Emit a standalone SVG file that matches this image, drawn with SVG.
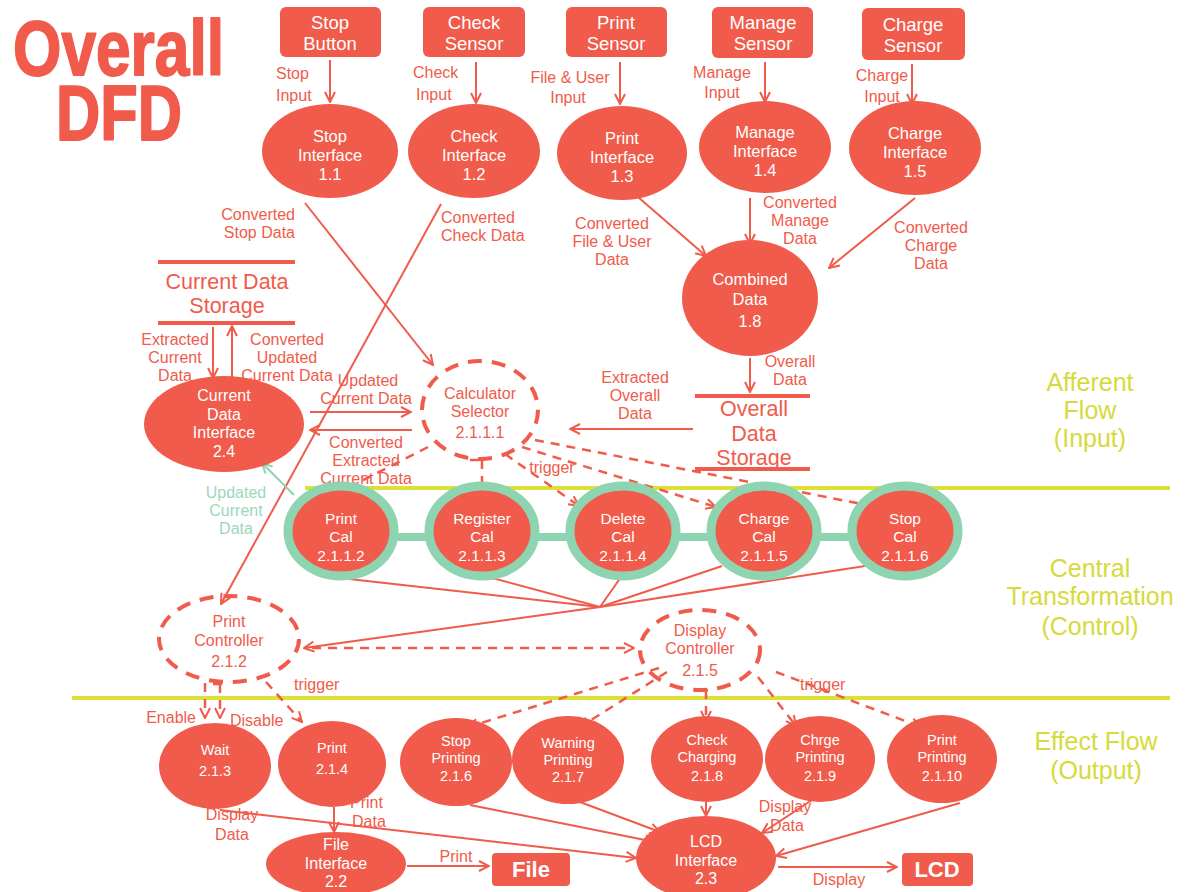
<svg xmlns="http://www.w3.org/2000/svg" width="1190" height="892" viewBox="0 0 1190 892">
<defs>
<style>
.bg{fill:#ffffff}
.nf{fill:#F05B4B}
text{font-family:"Liberation Sans",Arial,sans-serif}
.wt{fill:#ffffff;font-size:16.5px;text-anchor:middle}
.wt4{fill:#ffffff;font-size:16px;text-anchor:middle}
.wt2{fill:#ffffff;font-size:14.5px;text-anchor:middle}
.wt3{fill:#ffffff;font-size:18.5px;text-anchor:middle}
.wtc{fill:#ffffff;font-size:15.5px;text-anchor:middle}
.big{fill:#ffffff;font-size:22px;font-weight:bold;text-anchor:middle}
.lb{fill:#F05B4B;font-size:16px}
.lbm{fill:#F05B4B;font-size:16px;text-anchor:middle}
.ctl{fill:#F05B4B;font-size:16px;text-anchor:middle}
.st{fill:#F05B4B;font-size:21.5px;text-anchor:middle}
.gl{fill:#9BD8BA;font-size:16px;text-anchor:middle}
.yl{fill:#D6DA3A;font-size:25px;text-anchor:middle}
.title{fill:#F05B4B;stroke:#F05B4B;stroke-width:1.5;stroke-linejoin:round;font-family:"Liberation Sans",Arial,sans-serif;font-weight:bold;font-size:62px}
.ln{stroke:#F05B4B;stroke-width:2;fill:none}
.dl{stroke:#F05B4B;stroke-width:2.5;fill:none;stroke-dasharray:9 7}
.de{stroke:#F05B4B;stroke-width:4;fill:none;stroke-dasharray:14 10}
.bar{stroke:#F05B4B;stroke-width:4}
.yline{stroke:#DDE035;stroke-width:4}
.ring{fill:#F05B4B;stroke:#8FD4B0;stroke-width:9}
.gline{stroke:#8FD4B0;stroke-width:2;fill:none}
</style>
<marker id="ah" viewBox="0 0 12 12" refX="11" refY="6" markerWidth="12" markerHeight="12" markerUnits="userSpaceOnUse" orient="auto">
<path d="M1,1 L11,6 L1,11" fill="none" stroke="#F05B4B" stroke-width="2"/>
</marker>
<marker id="ahg" viewBox="0 0 12 12" refX="11" refY="6" markerWidth="12" markerHeight="12" markerUnits="userSpaceOnUse" orient="auto">
<path d="M1,1 L11,6 L1,11" fill="none" stroke="#8FD4B0" stroke-width="2"/>
</marker>
</defs>
<rect class="bg" x="0" y="0" width="1190" height="892"/>

<g id="title" transform="scale(1,1.27)">
<text class="title" x="13" y="59" textLength="211" lengthAdjust="spacingAndGlyphs">Overall</text>
<text class="title" x="56" y="110" textLength="126" lengthAdjust="spacingAndGlyphs">DFD</text>
</g>

<g id="swimlanes">
<line class="yline" x1="305" y1="488" x2="1170" y2="488"/>
<line class="yline" x1="72" y1="698" x2="1170" y2="698"/>
<text class="yl"><tspan x="1090" y="391">Afferent</tspan><tspan x="1090" y="419">Flow</tspan><tspan x="1090" y="447">(Input)</tspan></text>
<text class="yl"><tspan x="1090" y="577">Central</tspan><tspan x="1090" y="605">Transformation</tspan><tspan x="1090" y="635">(Control)</tspan></text>
<text class="yl"><tspan x="1096" y="750">Effect Flow</tspan><tspan x="1096" y="779">(Output)</tspan></text>
</g>

<g id="connectors">
<line class="ln" x1="330" y1="60" x2="330" y2="102" marker-end="url(#ah)"/>
<line class="ln" x1="476" y1="62" x2="476" y2="103" marker-end="url(#ah)"/>
<line class="ln" x1="620" y1="62" x2="620" y2="104" marker-end="url(#ah)"/>
<line class="ln" x1="765" y1="62" x2="765" y2="102" marker-end="url(#ah)"/>
<line class="ln" x1="912" y1="64" x2="912" y2="104" marker-end="url(#ah)"/>
<line class="ln" x1="638" y1="197" x2="706" y2="256" marker-end="url(#ah)"/>
<line class="ln" x1="750" y1="198" x2="750" y2="244" marker-end="url(#ah)"/>
<line class="ln" x1="915" y1="198" x2="829" y2="268" marker-end="url(#ah)"/>
<line class="ln" x1="750" y1="358" x2="750" y2="392" marker-end="url(#ah)"/>
<line class="ln" x1="693" y1="429" x2="570" y2="429" marker-end="url(#ah)"/>
<line class="ln" x1="305" y1="203" x2="433" y2="365" marker-end="url(#ah)"/>
<line class="ln" x1="441" y1="204" x2="221" y2="604" marker-end="url(#ah)"/>
<line class="ln" x1="213" y1="327" x2="213" y2="378" marker-end="url(#ah)"/>
<line class="ln" x1="232" y1="378" x2="232" y2="326" marker-end="url(#ah)"/>
<line class="ln" x1="310" y1="412" x2="411" y2="412" marker-end="url(#ah)"/>
<line class="ln" x1="412" y1="430" x2="310" y2="430" marker-end="url(#ah)"/>
<line class="gline" x1="294" y1="495" x2="262" y2="463" marker-end="url(#ahg)"/>
<path class="dl" d="M428,447 L336,494" marker-end="url(#ah)"/>
<path class="dl" d="M470,460 L484,460 M482,460 L482,492" marker-end="url(#ah)"/>
<path class="dl" d="M505,454 L579,506" marker-end="url(#ah)"/>
<path class="dl" d="M522,447 L716,507" marker-end="url(#ah)"/>
<path class="dl" d="M535,440 L872,506" marker-end="url(#ah)"/>
<line class="ln" x1="340" y1="578" x2="600" y2="607"/>
<line class="ln" x1="440" y1="564" x2="600" y2="607"/>
<line class="ln" x1="621" y1="577" x2="600" y2="607"/>
<line class="ln" x1="722" y1="566" x2="600" y2="607"/>
<line class="ln" x1="865" y1="566" x2="600" y2="607"/>
<line class="ln" x1="600" y1="607" x2="304" y2="648" marker-end="url(#ah)"/>
<line class="dl" x1="312" y1="648" x2="634" y2="648" marker-end="url(#ah)"/>
<path class="dl" d="M205,683 L205,718" marker-end="url(#ah)"/>
<path class="dl" d="M213,684 L227,684 M220,684 L220,718" marker-end="url(#ah)"/>
<path class="dl" d="M266,682 L302,722" marker-end="url(#ah)"/>
<path class="dl" d="M659,668 L468,727" marker-end="url(#ah)"/>
<path class="dl" d="M667,672 L580,727" marker-end="url(#ah)"/>
<path class="dl" d="M699,690 L713,690 M706,690 L706,721" marker-end="url(#ah)"/>
<path class="dl" d="M758,677 L796,726" marker-end="url(#ah)"/>
<path class="dl" d="M776,672 L921,727" marker-end="url(#ah)"/>
<line class="ln" x1="334" y1="807" x2="334" y2="832" marker-end="url(#ah)"/>
<line class="ln" x1="220" y1="810" x2="636" y2="858" marker-end="url(#ah)"/>
<line class="ln" x1="470" y1="805" x2="655" y2="842" marker-end="url(#ah)"/>
<line class="ln" x1="580" y1="802" x2="660" y2="832" marker-end="url(#ah)"/>
<line class="ln" x1="706" y1="802" x2="706" y2="816" marker-end="url(#ah)"/>
<line class="ln" x1="812" y1="800" x2="762" y2="833" marker-end="url(#ah)"/>
<line class="ln" x1="960" y1="803" x2="776" y2="856" marker-end="url(#ah)"/>
<line class="ln" x1="407" y1="866" x2="489" y2="866" marker-end="url(#ah)"/>
<line class="ln" x1="778" y1="867" x2="897" y2="867" marker-end="url(#ah)"/>
</g>

<g id="connector-labels">
<text class="lb"><tspan x="276" y="79">Stop</tspan><tspan x="276" y="101">Input</tspan></text>
<text class="lb"><tspan x="413" y="78">Check</tspan><tspan x="416" y="100">Input</tspan></text>
<text class="lbm"><tspan x="570" y="83">File &amp; User</tspan><tspan x="568" y="103">Input</tspan></text>
<text class="lbm"><tspan x="722" y="78">Manage</tspan><tspan x="722" y="98">Input</tspan></text>
<text class="lbm"><tspan x="882" y="81">Charge</tspan><tspan x="882" y="102">Input</tspan></text>
<text class="lb" text-anchor="end"><tspan x="295" y="220">Converted</tspan><tspan x="295" y="238">Stop Data</tspan></text>
<text class="lb"><tspan x="441" y="223">Converted</tspan><tspan x="441" y="241">Check Data</tspan></text>
<text class="lbm"><tspan x="612" y="229">Converted</tspan><tspan x="612" y="247">File &amp; User</tspan><tspan x="612" y="265">Data</tspan></text>
<text class="lbm"><tspan x="800" y="208">Converted</tspan><tspan x="800" y="226">Manage</tspan><tspan x="800" y="244">Data</tspan></text>
<text class="lbm"><tspan x="931" y="233">Converted</tspan><tspan x="931" y="251">Charge</tspan><tspan x="931" y="269">Data</tspan></text>
<text class="lbm"><tspan x="790" y="367">Overall</tspan><tspan x="790" y="385">Data</tspan></text>
<text class="lbm"><tspan x="635" y="383">Extracted</tspan><tspan x="635" y="401">Overall</tspan><tspan x="635" y="419">Data</tspan></text>
<text class="lbm"><tspan x="175" y="345">Extracted</tspan><tspan x="175" y="363">Current</tspan><tspan x="175" y="381">Data</tspan></text>
<text class="lbm"><tspan x="287" y="345">Converted</tspan><tspan x="287" y="363">Updated</tspan><tspan x="287" y="381">Current Data</tspan></text>
<text class="lbm"><tspan x="368" y="386">Updated</tspan><tspan x="366" y="404">Current Data</tspan></text>
<text class="lbm"><tspan x="366" y="448">Converted</tspan><tspan x="366" y="466">Extracted</tspan><tspan x="366" y="484">Current Data</tspan></text>
<text class="gl"><tspan x="236" y="498">Updated</tspan><tspan x="236" y="516">Current</tspan><tspan x="236" y="534">Data</tspan></text>
<text class="lbm" x="552" y="473">trigger</text>
<text class="lb" x="294" y="690">trigger</text>
<text class="lb" x="800" y="690">trigger</text>
<text class="lb" x="196" y="723" text-anchor="end">Enable</text>
<text class="lb" x="230" y="726">Disable</text>
<text class="lbm"><tspan x="232" y="820">Display</tspan><tspan x="232" y="840">Data</tspan></text>
<text class="lb"><tspan x="350" y="808">Print</tspan><tspan x="352" y="827">Data</tspan></text>
<text class="lbm"><tspan x="785" y="812">Display</tspan><tspan x="787" y="831">Data</tspan></text>
<text class="lbm" x="456" y="862">Print</text>
<text class="lbm" x="839" y="885">Display</text>
</g>

<g id="stop-button"><rect class="nf" x="280" y="7" width="101" height="50" rx="6"/><text class="wt3"><tspan x="330" y="29">Stop</tspan><tspan x="330" y="50">Button</tspan></text></g>
<g id="check-sensor"><rect class="nf" x="423" y="7" width="102" height="50" rx="6"/><text class="wt3"><tspan x="474" y="29">Check</tspan><tspan x="474" y="50">Sensor</tspan></text></g>
<g id="print-sensor"><rect class="nf" x="566" y="7" width="101" height="50" rx="6"/><text class="wt3"><tspan x="616" y="29">Print</tspan><tspan x="616" y="50">Sensor</tspan></text></g>
<g id="manage-sensor"><rect class="nf" x="712" y="7" width="101" height="51" rx="6"/><text class="wt3"><tspan x="763" y="29">Manage</tspan><tspan x="763" y="50">Sensor</tspan></text></g>
<g id="charge-sensor"><rect class="nf" x="862" y="8" width="103" height="52" rx="6"/><text class="wt3"><tspan x="913" y="31">Charge</tspan><tspan x="913" y="52">Sensor</tspan></text></g>

<g id="stop-interface"><ellipse class="nf" cx="330" cy="151" rx="68" ry="47"/><text class="wt"><tspan x="330" y="142">Stop</tspan><tspan x="330" y="161">Interface</tspan><tspan x="330" y="180">1.1</tspan></text></g>
<g id="check-interface"><ellipse class="nf" cx="474" cy="151" rx="66" ry="47"/><text class="wt"><tspan x="474" y="142">Check</tspan><tspan x="474" y="161">Interface</tspan><tspan x="474" y="180">1.2</tspan></text></g>
<g id="print-interface"><ellipse class="nf" cx="622" cy="153" rx="65" ry="47"/><text class="wt"><tspan x="622" y="144">Print</tspan><tspan x="622" y="163">Interface</tspan><tspan x="622" y="182">1.3</tspan></text></g>
<g id="manage-interface"><ellipse class="nf" cx="765" cy="147" rx="66" ry="46"/><text class="wt"><tspan x="765" y="138">Manage</tspan><tspan x="765" y="157">Interface</tspan><tspan x="765" y="176">1.4</tspan></text></g>
<g id="charge-interface"><ellipse class="nf" cx="915" cy="148" rx="66" ry="47"/><text class="wt"><tspan x="915" y="139">Charge</tspan><tspan x="915" y="158">Interface</tspan><tspan x="915" y="177">1.5</tspan></text></g>

<g id="combined-data"><ellipse class="nf" cx="750" cy="298" rx="68" ry="58"/><text class="wt"><tspan x="750" y="285">Combined</tspan><tspan x="750" y="305">Data</tspan><tspan x="750" y="327">1.8</tspan></text></g>

<g id="overall-data-storage"><line class="bar" x1="695" y1="396" x2="810" y2="396"/><line class="bar" x1="695" y1="469" x2="810" y2="469"/><text class="st"><tspan x="754" y="416">Overall</tspan><tspan x="754" y="441">Data</tspan><tspan x="754" y="465">Storage</tspan></text></g>

<g id="current-data-storage"><line class="bar" x1="158" y1="262" x2="295" y2="262"/><line class="bar" x1="158" y1="323" x2="295" y2="323"/><text class="st"><tspan x="227" y="289">Current Data</tspan><tspan x="227" y="313">Storage</tspan></text></g>

<g id="current-data-interface"><ellipse class="nf" cx="224" cy="424" rx="80" ry="48"/><text class="wt4"><tspan x="224" y="401">Current</tspan><tspan x="224" y="419.5">Data</tspan><tspan x="224" y="438">Interface</tspan><tspan x="224" y="456.5">2.4</tspan></text></g>

<g id="calculator-selector"><ellipse class="de" cx="480" cy="410" rx="58" ry="49"/><text class="ctl"><tspan x="480" y="399">Calculator</tspan><tspan x="480" y="417">Selector</tspan><tspan x="480" y="438">2.1.1.1</tspan></text></g>

<g id="cal-chain"><line x1="341" y1="537" x2="905" y2="537" stroke="#8FD4B0" stroke-width="8"/></g>
<g id="print-cal"><ellipse class="ring" cx="341" cy="531" rx="53" ry="45"/><text class="wtc"><tspan x="341" y="524">Print</tspan><tspan x="341" y="542">Cal</tspan><tspan x="341" y="561">2.1.1.2</tspan></text></g>
<g id="register-cal"><ellipse class="ring" cx="482" cy="531" rx="53" ry="45"/><text class="wtc"><tspan x="482" y="524">Register</tspan><tspan x="482" y="542">Cal</tspan><tspan x="482" y="561">2.1.1.3</tspan></text></g>
<g id="delete-cal"><ellipse class="ring" cx="623" cy="531" rx="53" ry="45"/><text class="wtc"><tspan x="623" y="524">Delete</tspan><tspan x="623" y="542">Cal</tspan><tspan x="623" y="561">2.1.1.4</tspan></text></g>
<g id="charge-cal"><ellipse class="ring" cx="764" cy="531" rx="53" ry="45"/><text class="wtc"><tspan x="764" y="524">Charge</tspan><tspan x="764" y="542">Cal</tspan><tspan x="764" y="561">2.1.1.5</tspan></text></g>
<g id="stop-cal"><ellipse class="ring" cx="905" cy="531" rx="53" ry="45"/><text class="wtc"><tspan x="905" y="524">Stop</tspan><tspan x="905" y="542">Cal</tspan><tspan x="905" y="561">2.1.1.6</tspan></text></g>

<g id="print-controller"><ellipse class="de" cx="229" cy="639" rx="70" ry="43"/><text class="ctl"><tspan x="229" y="627">Print</tspan><tspan x="229" y="646">Controller</tspan><tspan x="229" y="667">2.1.2</tspan></text></g>
<g id="display-controller"><ellipse class="de" cx="700" cy="650" rx="60" ry="40"/><text class="ctl"><tspan x="700" y="636">Display</tspan><tspan x="700" y="654">Controller</tspan><tspan x="700" y="676">2.1.5</tspan></text></g>

<g id="wait"><ellipse class="nf" cx="215" cy="766" rx="56" ry="43"/><text class="wt2"><tspan x="215" y="755">Wait</tspan><tspan x="215" y="776">2.1.3</tspan></text></g>
<g id="print"><ellipse class="nf" cx="332" cy="764" rx="54" ry="43"/><text class="wt2"><tspan x="332" y="753">Print</tspan><tspan x="332" y="774">2.1.4</tspan></text></g>
<g id="stop-printing"><ellipse class="nf" cx="456" cy="762" rx="56" ry="44"/><text class="wt2"><tspan x="456" y="746">Stop</tspan><tspan x="456" y="763">Printing</tspan><tspan x="456" y="781">2.1.6</tspan></text></g>
<g id="warning-printing"><ellipse class="nf" cx="568" cy="760" rx="56" ry="44"/><text class="wt2"><tspan x="568" y="748">Warning</tspan><tspan x="568" y="765">Printing</tspan><tspan x="568" y="782">2.1.7</tspan></text></g>
<g id="check-charging"><ellipse class="nf" cx="707" cy="759" rx="56" ry="43"/><text class="wt2"><tspan x="707" y="745">Check</tspan><tspan x="707" y="762">Charging</tspan><tspan x="707" y="781">2.1.8</tspan></text></g>
<g id="chrge-printing"><ellipse class="nf" cx="820" cy="759" rx="55" ry="43"/><text class="wt2"><tspan x="820" y="745">Chrge</tspan><tspan x="820" y="762">Printing</tspan><tspan x="820" y="781">2.1.9</tspan></text></g>
<g id="print-printing"><ellipse class="nf" cx="942" cy="759" rx="55" ry="44"/><text class="wt2"><tspan x="942" y="745">Print</tspan><tspan x="942" y="762">Printing</tspan><tspan x="942" y="781">2.1.10</tspan></text></g>

<g id="file-interface"><ellipse class="nf" cx="336" cy="864" rx="70" ry="32"/><text class="wt4"><tspan x="336" y="850">File</tspan><tspan x="336" y="868.5">Interface</tspan><tspan x="336" y="887">2.2</tspan></text></g>
<g id="lcd-interface"><ellipse class="nf" cx="706" cy="858" rx="70" ry="42"/><text class="wt4"><tspan x="706" y="847">LCD</tspan><tspan x="706" y="865.5">Interface</tspan><tspan x="706" y="884">2.3</tspan></text></g>
<g id="file"><rect class="nf" x="492" y="853" width="78" height="33" rx="4"/><text class="big" x="531" y="877">File</text></g>
<g id="lcd"><rect class="nf" x="902" y="853" width="71" height="33" rx="4"/><text class="big" x="937" y="877">LCD</text></g>
</svg>
